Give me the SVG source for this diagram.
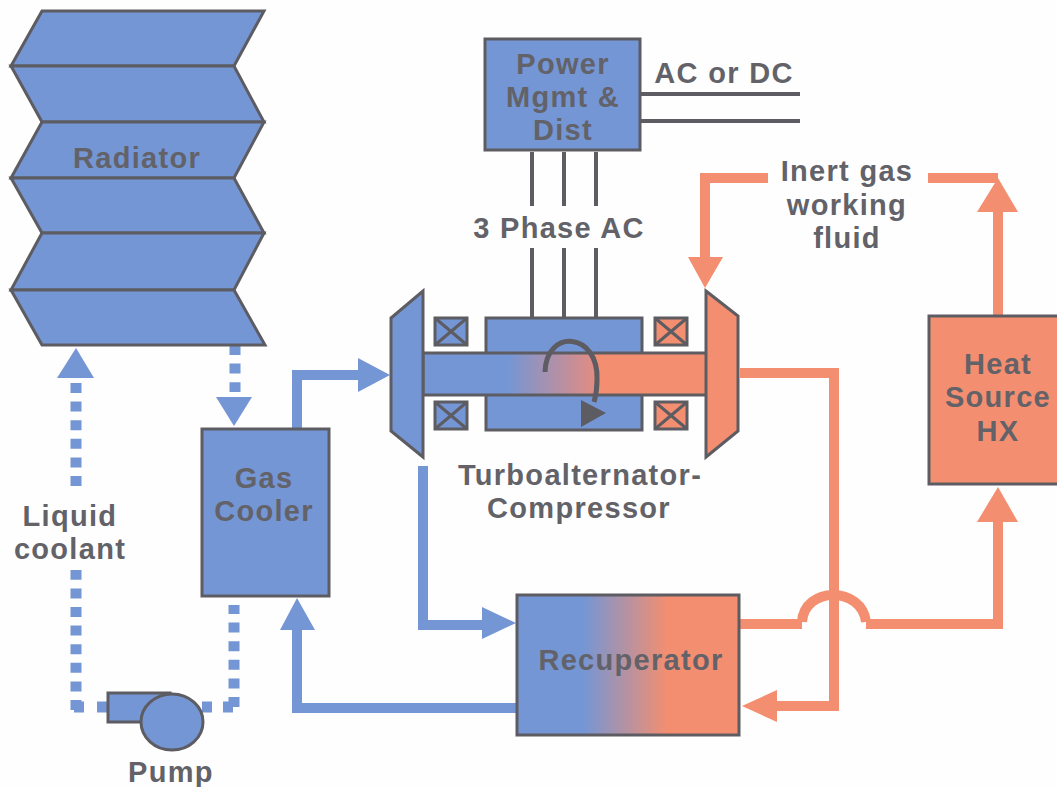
<svg xmlns="http://www.w3.org/2000/svg" width="1057" height="787" viewBox="0 0 1057 787">
<style>
text{font-family:"Liberation Sans",Arial,sans-serif;font-weight:700;fill:#626268;text-anchor:middle;font-size:29px;letter-spacing:1.3px}
.b{fill:#7596d4;stroke:#5c5c62;stroke-width:3}
.r{fill:#f48e70;stroke:#5c5c62;stroke-width:3}
.bl{fill:none;stroke:#7596d4;stroke-width:10}
.rl{fill:none;stroke:#f48e70;stroke-width:10}
.dot{fill:none;stroke:#7596d4;stroke-width:11;stroke-dasharray:10 8.6}
.g{fill:none;stroke:#5c5c62;stroke-width:4}
.x{stroke:#5c5c62;stroke-width:3}
.ba{fill:#7596d4}.ra{fill:#f48e70}
</style>
<defs>
<linearGradient id="shaft" x1="0" x2="1" y1="0" y2="0"><stop offset="0.3" stop-color="#7596d4"/><stop offset="0.6" stop-color="#e08c84"/><stop offset="0.61" stop-color="#f48e70"/></linearGradient>
<linearGradient id="rec" x1="0" x2="1" y1="0" y2="0"><stop offset="0.3" stop-color="#7596d4"/><stop offset="0.68" stop-color="#f48e70"/></linearGradient>
</defs>
<rect width="1057" height="787" fill="#fefefe"/>
<g id="connectors">
<path class="dot" d="M235 345V392"/><path class="ba" d="M216 397H252L234 426Z"/>
<path class="dot" d="M234 707V605"/><path class="dot" d="M233 707H223"/><path class="dot" d="M212 707H202"/>
<path class="dot" d="M76 710V570"/><path class="dot" d="M84 707H74"/><path class="dot" d="M107 707H97"/>
<path class="dot" d="M76 486V383"/><path class="ba" d="M57 378H94L76 348Z"/>
<path class="bl" d="M297 428V375H362"/><path class="ba" d="M358 358V392L390 375Z"/>
<path class="bl" d="M423 466V625H484"/><path class="ba" d="M482 607V639L516 623Z"/>
<path class="bl" d="M517 708H297V630"/><path class="ba" d="M280 630H315L297 598Z"/>
<path class="rl" d="M740 624H802"/><path class="rl" d="M802 622C804 586 862 586 866 622"/><path class="rl" d="M866 624H998V520"/><path class="ra" d="M977 522H1018L998 487Z"/>
<path class="rl" d="M998 316V210"/><path class="ra" d="M977 212H1018L998 178Z"/>
<path class="rl" d="M740 373H834V706H775"/><path class="ra" d="M777 690V722L742 706Z"/>
<path class="rl" d="M928 178H998"/><path class="rl" d="M768 178H705V260"/><path class="ra" d="M688 257H723L705 288Z"/>
<path class="g" d="M532 152V206M564 152V206M596 152V206M532 248V317M564 248V317M596 248V317"/>
<path class="g" d="M640 94H800M640 121H800"/>
</g>
<g id="radiator">
<path class="b" d="M42 11H264L234 66H11Z"/><path class="b" d="M11 66H234L264 122H42Z"/><path class="b" d="M42 122H264L234 178H11Z"/><path class="b" d="M11 178H234L264 233H42Z"/><path class="b" d="M42 233H264L234 290H11Z"/><path class="b" d="M11 290H234L265 345H42Z"/>
<text x="137" y="168">Radiator</text>
</g>
<g id="gas-cooler"><rect class="b" x="202" y="429" width="127" height="167"/><text x="264" y="488">Gas</text><text x="264" y="521">Cooler</text></g>
<g id="pump"><rect class="b" x="108" y="693" width="62" height="29"/><ellipse class="b" cx="172" cy="722" rx="31" ry="28"/><text x="171" y="782">Pump</text></g>
<g id="power-mgmt"><rect class="b" x="485" y="39" width="155" height="111"/><text x="563" y="74">Power</text><text x="563" y="107">Mgmt &amp;</text><text x="563" y="140">Dist</text></g>
<g id="turboalternator">
<rect class="b" x="486" y="318" width="156" height="112"/>
<rect x="423" y="353" width="284" height="42" fill="url(#shaft)" stroke="#5c5c62" stroke-width="3"/>
<path class="b" d="M423 291V457L391 431V318Z"/>
<path class="r" d="M706 291L738 316V431L706 457Z"/>
<g class="b"><rect x="435" y="318" width="32" height="27"/><path class="x" d="M435 318L467 345M467 318L435 345"/><rect x="435" y="402" width="32" height="27"/><path class="x" d="M435 402L467 429M467 402L435 429"/></g>
<g class="r"><rect x="655" y="318" width="32" height="27"/><path class="x" d="M655 318L687 345M687 318L655 345"/><rect x="655" y="402" width="32" height="27"/><path class="x" d="M655 402L687 429M687 402L655 429"/></g>
<path d="M545 372C546 328 599 332 597 380C597 392 596 395 594 402" fill="none" stroke="#5c5c62" stroke-width="5"/>
<path d="M581 400L606 413L581 427Z" fill="#5c5c62"/>
<text x="580" y="485">Turboalternator-</text><text x="579" y="518">Compressor</text>
</g>
<g id="heat-source"><rect class="r" x="929" y="316" width="130" height="168"/><text x="998" y="374">Heat</text><text x="998" y="407">Source</text><text x="998" y="441">HX</text></g>
<g id="recuperator"><rect x="517" y="595" width="222" height="140" fill="url(#rec)" stroke="#5c5c62" stroke-width="3"/><text x="631" y="670">Recuperator</text></g>
<g id="labels">
<text x="724" y="83">AC or DC</text><text x="559" y="238">3 Phase AC</text>
<text x="847" y="181">Inert gas</text><text x="847" y="215">working</text><text x="847" y="248">fluid</text>
<text x="70" y="526">Liquid</text><text x="70" y="559">coolant</text>
</g>
</svg>
